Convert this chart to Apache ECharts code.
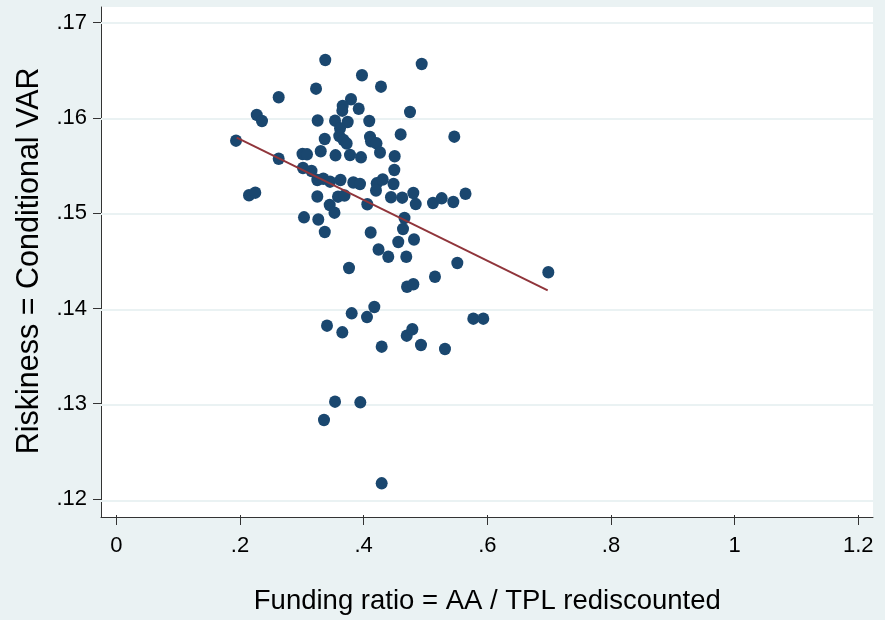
<!DOCTYPE html>
<html>
<head>
<meta charset="utf-8">
<script src="https://cdn.jsdelivr.net/npm/echarts@6/dist/echarts.min.js"></script>
<style>
html,body{margin:0;padding:0;background:#EAF2F3;}
#chart{width:885px;height:620px;}
</style>
</head>
<body>
<div id="chart"></div>
<script>
// Funding ratio (x) and Riskiness (y)
const fundingRatio = [
  0.3387,0.4950,0.3982,0.4290,0.3237,0.2632,0.3804,0.3669,0.3663,0.3929,
  0.4760,0.2276,0.2361,0.3264,0.3545,0.3750,0.4100,0.3626,0.4609,0.5478,
  0.1940,0.3378,0.3614,0.3682,0.3734,0.4112,0.4128,0.4217,0.3313,0.4274,
  0.3018,0.3091,0.3553,0.3788,0.3966,0.4512,0.2632,0.4506,0.3026,0.3164,
  0.3258,0.3355,0.3464,0.3634,0.3841,0.3950,0.4220,0.4318,0.4493,0.2151,
  0.2253,0.3258,0.3593,0.3699,0.3459,0.3536,0.4068,0.4209,0.4452,0.4634,
  0.4814,0.4853,0.5133,0.5274,0.5462,0.5660,0.3042,0.3274,0.4671,0.3379,
  0.4123,0.4647,0.4570,0.4825,0.4250,0.4408,0.4700,0.3772,0.5527,0.5165,
  0.7002,0.4712,0.4814,0.3815,0.4182,0.4063,0.3415,0.3663,0.4707,0.4798,
  0.4301,0.4938,0.5327,0.5786,0.5948,0.3545,0.3955,0.3366,0.4301
];
const riskiness = [
  0.16610,0.16568,0.16450,0.16331,0.16310,0.16220,0.16199,0.16129,0.16080,0.16100,
  0.16066,0.16035,0.15972,0.15977,0.15975,0.15961,0.15972,0.15895,0.15831,0.15808,
  0.15766,0.15783,0.15815,0.15773,0.15736,0.15804,0.15759,0.15738,0.15655,0.15642,
  0.15627,0.15623,0.15613,0.15616,0.15592,0.15603,0.15577,0.15459,0.15480,0.15449,
  0.15355,0.15368,0.15337,0.15355,0.15328,0.15313,0.15320,0.15360,0.15313,0.15195,
  0.15222,0.15182,0.15180,0.15192,0.15093,0.15013,0.15101,0.15245,0.15174,0.15170,
  0.15219,0.15103,0.15114,0.15163,0.15124,0.15211,0.14964,0.14941,0.14957,0.14811,
  0.14805,0.14842,0.14706,0.14732,0.14628,0.14552,0.14552,0.14434,0.14486,0.14343,
  0.14390,0.14238,0.14264,0.13960,0.14026,0.13921,0.13831,0.13761,0.13726,0.13793,
  0.13611,0.13629,0.13587,0.13904,0.13904,0.13036,0.13029,0.12844,0.12182
];
// Fitted line end points
const fitX = [0.1951, 0.6992];
const fitY = [0.15797, 0.14201];
// Tick values
const xTicks = [0, 0.2, 0.4, 0.6, 0.8, 1, 1.2];
const yTicks = [0.12, 0.13, 0.14, 0.15, 0.16, 0.17];

const fmt = v => {
  const r = Math.round(v * 1000) / 1000;
  let s = String(r);
  if (s.startsWith('0.')) s = s.slice(1);
  return s;
};

const FONT = "'Liberation Sans', Arial, sans-serif";
const AX = '#333333';
const GRIDC = '#EAF2F3';

const chart = echarts.init(document.getElementById('chart'), null, {renderer: 'canvas'});
const points = fundingRatio.map((x, i) => [x, riskiness[i]]);
const fitLine = fitX.map((x, i) => [x, fitY[i]]);

chart.setOption({
  backgroundColor: '#EAF2F3',
  animation: false,
  grid: [
    {left: 101, right: 12, top: 7, bottom: 103, show: true, backgroundColor: '#ffffff', borderWidth: 0, containLabel: false},
    {left: 116.3, right: 26.7, top: 22.7, bottom: 119.3, show: false, containLabel: false}
  ],
  xAxis: [
    {
      type: 'value', gridIndex: 0, min: -0.0248, max: 1.22642,
      axisLine: {show: true, onZero: false, lineStyle: {color: AX, width: 1}},
      axisTick: {show: false}, axisLabel: {show: false}, splitLine: {show: false}
    },
    {
      type: 'value', gridIndex: 1, min: xTicks[0], max: xTicks[xTicks.length - 1], interval: 0.2,
      position: 'bottom', offset: 16,
      axisLine: {show: false, onZero: false},
      axisTick: {show: true, inside: false, length: 10, lineStyle: {color: AX, width: 1}},
      axisLabel: {show: true, margin: 20, fontSize: 22, color: '#000', fontFamily: FONT, formatter: fmt},
      splitLine: {show: false},
      name: 'Funding ratio = AA / TPL rediscounted',
      nameLocation: 'middle', nameGap: 72,
      nameTextStyle: {fontSize: 27.5, color: '#000', fontFamily: FONT}
    }
  ],
  yAxis: [
    {
      type: 'value', gridIndex: 0, min: 0.118295, max: 0.171642,
      axisLine: {show: true, onZero: false, lineStyle: {color: AX, width: 1}},
      axisTick: {show: false}, axisLabel: {show: false}, splitLine: {show: false}
    },
    {
      type: 'value', gridIndex: 1, min: yTicks[0], max: yTicks[yTicks.length - 1], interval: 0.01,
      position: 'left', offset: 15.3,
      axisLine: {show: false, onZero: false},
      axisTick: {show: true, inside: false, length: 8, lineStyle: {color: AX, width: 1}},
      axisLabel: {show: true, margin: 14, fontSize: 22, color: '#000', fontFamily: FONT, formatter: fmt},
      splitLine: {show: false},
      name: 'Riskiness = Conditional VAR',
      nameLocation: 'middle', nameGap: 55, nameRotate: 90,
      nameTextStyle: {fontSize: 30.5, color: '#000', fontFamily: FONT}
    }
  ],
  series: [
    {
      type: 'scatter', xAxisIndex: 0, yAxisIndex: 0,
      data: points, symbol: 'circle', symbolSize: [12, 12.5], z: 3,
      itemStyle: {color: '#1A476F', opacity: 1},
      markLine: {
        silent: true, symbol: 'none', z: 1, animation: false,
        label: {show: false},
        lineStyle: {color: GRIDC, width: 2, type: 'solid'},
        data: yTicks.map(v => ({yAxis: v}))
      }
    },
    {
      type: 'line', xAxisIndex: 0, yAxisIndex: 0,
      data: fitLine, symbol: 'none', z: 4,
      lineStyle: {color: '#90353B', width: 2}
    }
  ]
});
</script>
</body>
</html>
